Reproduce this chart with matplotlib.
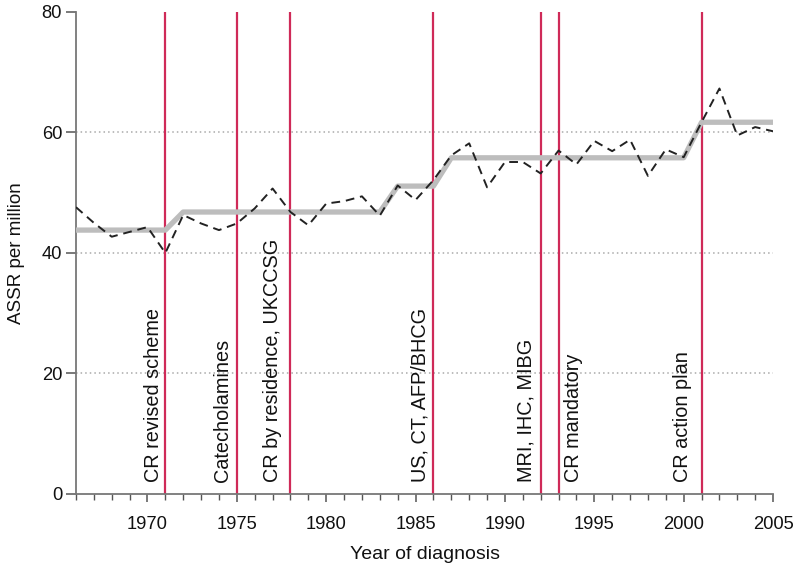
import matplotlib
matplotlib.use("Agg")
import matplotlib.pyplot as plt
from matplotlib.ticker import MultipleLocator

plt.rcParams['font.family'] = ['Liberation Sans', 'DejaVu Sans']

years = list(range(1966, 2006))
assr = [47.6, 45.0, 42.7, 43.5, 44.3, 40.0, 46.3, 44.9, 43.8, 44.9,
        47.4, 50.7, 46.8, 44.6, 48.2, 48.6, 49.4, 46.2, 51.2, 48.8,
        52.1, 56.2, 58.2, 50.9, 55.1, 55.1, 53.2, 57.0, 54.7, 58.6,
        56.9, 58.8, 52.8, 57.2, 55.9, 61.7, 67.3, 59.5, 60.9, 60.2]
fitted = [43.8] * 6 + [46.8] * 12 + [51.1] * 3 + [55.8] * 14 + [61.7] * 5

event_years = [1971, 1975, 1978, 1986, 1992, 1993, 2001]
event_labels = ["CR revised scheme", "Catecholamines", "CR by residence, UKCCSG",
                "US, CT, AFP/BHCG", "MRI, IHC, MIBG", "CR mandatory", "CR action plan"]
label_x = [1970.33, 1974.2, 1977.0, 1985.27, 1991.2, 1993.86, 1999.93]

fig = plt.figure(figsize=(7.94, 5.68), dpi=100)
ax = fig.add_axes([0.0957, 0.1303, 0.9736 - 0.0957, 0.9789 - 0.1303])

for yv in [20, 40, 60]:
    ax.plot([1966, 2005], [yv, yv], color='#aaaaaa', lw=1.1, ls=(0, (1, 2)), zorder=1)

for ey in event_years:
    ax.axvline(ey, color='#cf2a58', lw=1.6, zorder=2)

ax.plot(years, fitted, color='#bdbdbd', lw=3.8, zorder=3, solid_capstyle='butt')
ax.plot(years, assr, color='#222222', lw=1.4, ls=(0, (4.5, 3)), zorder=4)

for lx, lab in zip(label_x, event_labels):
    ax.text(lx, 2.0, lab, rotation=90, ha='center', va='bottom', fontsize=14.3,
            color='#111111', zorder=5)

ax.set_xlim(1966, 2005)
ax.set_ylim(0, 80)
ax.xaxis.set_minor_locator(MultipleLocator(1))
ax.yaxis.set_major_locator(MultipleLocator(20))
ax.set_xticks([1970, 1975, 1980, 1985, 1990, 1995, 2000, 2005])

for s in ['top', 'right']:
    ax.spines[s].set_visible(False)
for s in ['left', 'bottom']:
    ax.spines[s].set_color('#777777')
    ax.spines[s].set_linewidth(1.3)

ax.tick_params(axis='x', which='major', length=6, width=1.1, color='#555555',
               labelsize=13.2, pad=10, labelcolor='#111111')
ax.tick_params(axis='x', which='minor', length=4, width=1.0, color='#555555')
ax.tick_params(axis='y', which='major', length=7, width=1.1, color='#555555',
               labelsize=13.2, pad=3, labelcolor='#111111')

ax.set_xlabel("Year of diagnosis", fontsize=14, labelpad=9, color='#111111')
ax.set_ylabel("ASSR per million", fontsize=13.5, labelpad=12, color='#111111')

fig.savefig("out.png", dpi=100)
